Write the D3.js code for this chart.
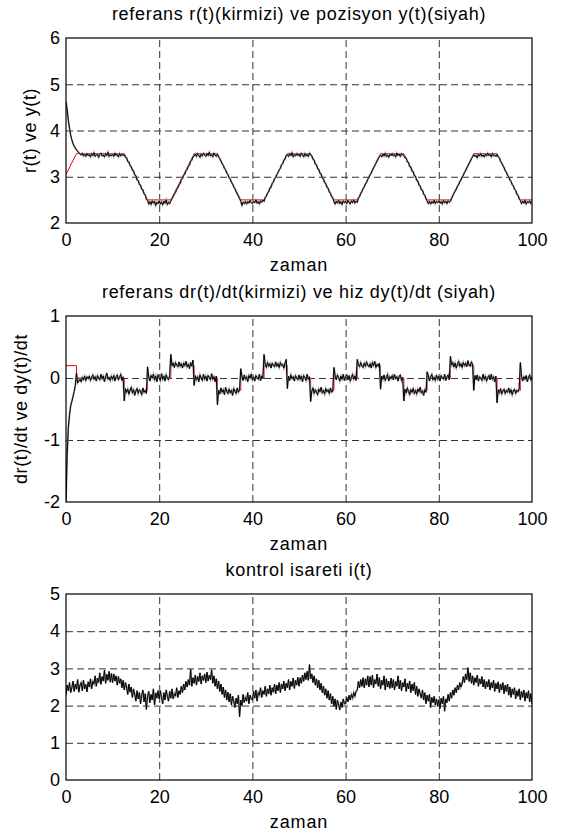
<!DOCTYPE html>
<html>
<head>
<meta charset="utf-8">
<script src="https://cdn.jsdelivr.net/npm/d3@7/dist/d3.min.js"></script>
<style>
	body { margin: 0; background: #fff; }
	text { font-family: "Liberation Sans", Arial, Helvetica, sans-serif; fill: #000; }
</style>
</head>
<body>
<div class="chart"></div>
<script>
// simulation samples every 0.25 s
const zaman = d3.range(0, 100.001, 0.25);
const zamanTicks = [0, 20, 40, 60, 80, 100];

// reference r(t): corner points of the trapezoid
const refZaman = [0, 2.25, 12.5, 17.5, 22.5, 27.5, 32.5, 37.5, 42.5, 47.5, 52.5, 57.5, 62.5, 67.5, 72.5, 77.5, 82.5, 87.5, 92.5, 97.5, 100];
const refPoz = [3.05, 3.5, 3.5, 2.5, 2.5, 3.5, 3.5, 2.5, 2.5, 3.5, 3.5, 2.5, 2.5, 3.5, 3.5, 2.5, 2.5, 3.5, 3.5, 2.5, 2.5];
// reference dr(t)/dt, held until next point
const refHiz = [0.2, 0, -0.2, 0, 0.2, 0, -0.2, 0, 0.2, 0, -0.2, 0, 0.2, 0, -0.2, 0, 0.2, 0, -0.2, 0, 0];

// position y(t), one row = 5 s
const pozisyon = [
	4.62, 4.45, 4.22, 4.05, 3.90, 3.80, 3.72, 3.66, 3.62, 3.58, 3.55, 3.52, 3.50, 3.47, 3.51, 3.45, 3.49, 3.44, 3.50, 3.46,
	3.48, 3.43, 3.50, 3.46, 3.52, 3.44, 3.47, 3.49, 3.42, 3.48, 3.51, 3.45, 3.47, 3.43, 3.50, 3.46, 3.53, 3.44, 3.48, 3.45,
	3.49, 3.44, 3.51, 3.46, 3.48, 3.43, 3.50, 3.45, 3.49, 3.46, 3.48, 3.42, 3.41, 3.33, 3.32, 3.24, 3.22, 3.14, 3.13, 3.04,
	3.02, 2.93, 2.92, 2.83, 2.82, 2.73, 2.72, 2.63, 2.61, 2.52, 2.49, 2.41, 2.46, 2.40, 2.48, 2.43, 2.47, 2.38, 2.45, 2.42,
	2.48, 2.41, 2.46, 2.39, 2.47, 2.43, 2.50, 2.40, 2.45, 2.42, 2.48, 2.53, 2.57, 2.63, 2.66, 2.73, 2.76, 2.83, 2.85, 2.94,
	2.96, 3.03, 3.06, 3.13, 3.16, 3.23, 3.25, 3.34, 3.36, 3.43, 3.45, 3.49, 3.44, 3.50, 3.46, 3.42, 3.49, 3.45, 3.51, 3.47,
	3.44, 3.50, 3.46, 3.53, 3.45, 3.48, 3.43, 3.51, 3.47, 3.44, 3.49, 3.43, 3.39, 3.34, 3.28, 3.25, 3.18, 3.15, 3.08, 3.05,
	2.98, 2.95, 2.88, 2.84, 2.78, 2.74, 2.68, 2.63, 2.58, 2.53, 2.47, 2.38, 2.45, 2.42, 2.47, 2.41, 2.46, 2.43, 2.49, 2.44,
	2.42, 2.47, 2.44, 2.50, 2.43, 2.46, 2.41, 2.48, 2.45, 2.50, 2.47, 2.55, 2.58, 2.65, 2.67, 2.76, 2.77, 2.86, 2.88, 2.96,
	2.98, 3.05, 3.09, 3.15, 3.18, 3.26, 3.28, 3.36, 3.38, 3.46, 3.48, 3.44, 3.50, 3.46, 3.52, 3.43, 3.48, 3.45, 3.50, 3.46,
	3.49, 3.44, 3.51, 3.47, 3.43, 3.50, 3.45, 3.48, 3.44, 3.51, 3.47, 3.45, 3.38, 3.36, 3.27, 3.26, 3.17, 3.16, 3.07, 3.06,
	2.97, 2.95, 2.87, 2.85, 2.77, 2.75, 2.67, 2.64, 2.57, 2.54, 2.46, 2.41, 2.47, 2.43, 2.49, 2.42, 2.46, 2.40, 2.48, 2.44,
	2.47, 2.42, 2.49, 2.45, 2.41, 2.48, 2.44, 2.50, 2.43, 2.47, 2.45, 2.54, 2.57, 2.64, 2.68, 2.74, 2.78, 2.84, 2.88, 2.94,
	2.99, 3.04, 3.08, 3.14, 3.19, 3.24, 3.29, 3.34, 3.39, 3.44, 3.47, 3.43, 3.49, 3.45, 3.51, 3.44, 3.47, 3.42, 3.49, 3.46,
	3.50, 3.45, 3.48, 3.43, 3.51, 3.46, 3.49, 3.44, 3.50, 3.47, 3.46, 3.41, 3.40, 3.32, 3.31, 3.22, 3.21, 3.12, 3.11, 3.02,
	3.01, 2.92, 2.91, 2.82, 2.80, 2.72, 2.71, 2.62, 2.60, 2.52, 2.48, 2.42, 2.47, 2.41, 2.46, 2.43, 2.49, 2.42, 2.47, 2.44,
	2.48, 2.43, 2.46, 2.41, 2.49, 2.44, 2.47, 2.42, 2.48, 2.45, 2.47, 2.53, 2.59, 2.64, 2.69, 2.73, 2.79, 2.83, 2.89, 2.93,
	2.99, 3.03, 3.09, 3.13, 3.19, 3.23, 3.29, 3.33, 3.39, 3.43, 3.48, 3.44, 3.46, 3.41, 3.49, 3.45, 3.50, 3.44, 3.47, 3.43,
	3.49, 3.45, 3.51, 3.46, 3.48, 3.43, 3.50, 3.45, 3.47, 3.44, 3.48, 3.43, 3.41, 3.33, 3.30, 3.24, 3.20, 3.13, 3.10, 3.03,
	3.00, 2.93, 2.90, 2.83, 2.80, 2.73, 2.70, 2.62, 2.60, 2.52, 2.49, 2.42, 2.47, 2.43, 2.49, 2.41, 2.46, 2.44, 2.48, 2.42,
	2.45
];

// speed dy(t)/dt, one row = 5 s
const hiz = [
	-2.00, -1.25, -0.80, -0.60, -0.45, -0.38, -0.30, -0.22, -0.12, 0.08, -0.08, -0.05, -0.02, -0.06, 0.01, -0.03, 0.03, -0.04, 0.02, -0.01,
	0.03, -0.04, 0.01, 0.05, -0.02, 0.02, -0.05, 0.04, 0.00, -0.03, 0.06, -0.01, 0.03, -0.06, 0.02, 0.08, -0.02, 0.01, -0.04, 0.03,
	-0.02, 0.04, -0.05, 0.02, 0.05, -0.03, 0.01, 0.06, -0.04, 0.02, -0.37, -0.17, -0.23, -0.18, -0.26, -0.20, -0.15, -0.24, -0.19, -0.28,
	-0.21, -0.17, -0.25, -0.19, -0.22, -0.27, -0.16, -0.23, -0.20, -0.25, 0.18, 0.02, -0.05, 0.04, 0.00, 0.06, -0.03, 0.03, -0.06, 0.05,
	0.01, -0.04, 0.07, -0.02, 0.03, -0.05, 0.05, 0.00, -0.03, 0.04, 0.38, 0.20, 0.24, 0.17, 0.25, 0.21, 0.18, 0.26, 0.19, 0.23,
	0.16, 0.24, 0.20, 0.27, 0.18, 0.22, 0.15, 0.25, 0.19, 0.29, -0.12, 0.04, -0.03, 0.02, -0.06, 0.05, 0.00, -0.04, 0.06, -0.02,
	0.03, -0.05, 0.04, 0.01, -0.03, 0.07, -0.02, 0.02, -0.06, 0.03, -0.43, -0.20, -0.26, -0.16, -0.23, -0.19, -0.27, -0.15, -0.22, -0.25,
	-0.18, -0.24, -0.20, -0.28, -0.17, -0.22, -0.25, -0.16, -0.23, -0.19, 0.15, 0.03, -0.04, 0.05, -0.02, 0.02, -0.06, 0.04, 0.00, 0.06,
	-0.03, 0.02, -0.05, 0.04, 0.01, -0.02, 0.06, -0.04, 0.03, -0.01, 0.38, 0.22, 0.17, 0.25, 0.19, 0.23, 0.16, 0.24, 0.21, 0.18,
	0.26, 0.19, 0.23, 0.17, 0.25, 0.20, 0.22, 0.16, 0.24, 0.30, -0.17, 0.03, -0.04, 0.05, -0.01, 0.02, -0.05, 0.04, 0.00, -0.03,
	0.05, -0.02, 0.03, -0.06, 0.04, 0.01, -0.04, 0.06, -0.02, 0.02, -0.38, -0.21, -0.16, -0.25, -0.19, -0.23, -0.27, -0.18, -0.22, -0.15,
	-0.24, -0.20, -0.26, -0.17, -0.22, -0.19, -0.25, -0.16, -0.23, -0.21, 0.17, 0.04, -0.03, 0.05, 0.01, -0.05, 0.03, -0.02, 0.06, -0.04,
	0.02, 0.05, -0.03, 0.04, -0.05, 0.01, 0.06, -0.02, 0.03, -0.04, 0.30, 0.22, 0.18, 0.25, 0.20, 0.17, 0.24, 0.19, 0.26, 0.21,
	0.18, 0.23, 0.16, 0.25, 0.20, 0.27, 0.17, 0.22, 0.19, 0.24, -0.18, 0.03, -0.02, 0.05, -0.04, 0.01, 0.06, -0.05, 0.02, -0.01,
	0.04, -0.03, 0.06, -0.01, 0.02, -0.05, 0.03, 0.05, -0.04, 0.01, -0.37, -0.18, -0.24, -0.16, -0.22, -0.27, -0.19, -0.23, -0.17, -0.25,
	-0.20, -0.26, -0.18, -0.22, -0.15, -0.24, -0.21, -0.28, -0.19, -0.23, 0.10, 0.04, -0.05, 0.02, 0.06, -0.03, 0.01, -0.04, 0.05, -0.02,
	0.03, -0.05, 0.04, 0.00, -0.02, 0.06, -0.04, 0.02, 0.05, -0.03, 0.35, 0.21, 0.25, 0.18, 0.24, 0.16, 0.22, 0.27, 0.19, 0.23,
	0.17, 0.25, 0.20, 0.24, 0.18, 0.28, 0.21, 0.19, 0.26, 0.22, -0.20, 0.04, -0.03, 0.05, -0.05, 0.02, 0.00, -0.04, 0.06, -0.02,
	0.03, -0.05, 0.01, 0.04, -0.03, 0.06, -0.02, 0.02, -0.06, 0.03, -0.40, -0.19, -0.24, -0.17, -0.26, -0.21, -0.18, -0.25, -0.20, -0.23,
	-0.16, -0.24, -0.19, -0.27, -0.21, -0.18, -0.25, -0.20, -0.22, -0.17, 0.25, 0.03, -0.05, 0.02, -0.02, 0.04, -0.06, 0.01, 0.05, -0.03,
	0.02
];

// control signal i(t), one row = 5 s
const kontrol = [
	2.28, 2.55, 2.40, 2.62, 2.35, 2.48, 2.66, 2.38, 2.58, 2.44, 2.70, 2.36, 2.55, 2.62, 2.40, 2.68, 2.45, 2.57, 2.37, 2.64,
	2.50, 2.72, 2.45, 2.65, 2.58, 2.80, 2.52, 2.74, 2.62, 2.88, 2.57, 2.78, 2.66, 2.95, 2.60, 2.84, 2.68, 2.92, 2.63, 2.86,
	2.62, 2.85, 2.66, 2.80, 2.55, 2.78, 2.60, 2.72, 2.48, 2.68, 2.42, 2.62, 2.50, 2.30, 2.58, 2.36, 2.50, 2.22, 2.45, 2.30,
	2.12, 2.40, 2.18, 2.35, 2.05, 2.28, 2.42, 2.10, 2.32, 1.90, 2.25, 2.38, 2.08, 2.30, 2.15, 2.45, 2.02, 2.34, 2.20, 2.40,
	2.18, 2.40, 2.22, 2.05, 2.35, 2.15, 2.42, 2.25, 2.12, 2.38, 2.20, 2.45, 2.18, 2.32, 2.26, 2.48, 2.22, 2.40, 2.30, 2.52,
	2.35, 2.58, 2.42, 2.65, 2.50, 2.70, 2.55, 2.98, 2.52, 2.75, 2.60, 2.82, 2.55, 2.78, 2.65, 2.88, 2.58, 2.80, 2.68, 2.85,
	2.62, 2.90, 2.66, 2.82, 2.70, 2.96, 2.60, 2.80, 2.52, 2.72, 2.45, 2.66, 2.38, 2.58, 2.30, 2.50, 2.22, 2.42, 2.15, 2.36,
	2.10, 2.32, 2.02, 2.25, 2.12, 1.95, 2.20, 2.05, 2.28, 1.70, 2.15, 2.00, 2.30, 2.08, 2.22, 2.12, 2.35, 2.05, 2.28, 2.18,
	2.15, 2.38, 2.20, 2.42, 2.12, 2.35, 2.28, 2.48, 2.22, 2.40, 2.30, 2.52, 2.25, 2.45, 2.32, 2.55, 2.28, 2.48, 2.36, 2.58,
	2.32, 2.55, 2.40, 2.62, 2.35, 2.58, 2.45, 2.66, 2.40, 2.60, 2.48, 2.70, 2.42, 2.65, 2.52, 2.74, 2.46, 2.68, 2.55, 2.76,
	2.52, 2.75, 2.60, 2.82, 2.65, 2.88, 2.70, 2.92, 2.68, 3.10, 2.72, 2.85, 2.62, 2.80, 2.55, 2.72, 2.48, 2.68, 2.42, 2.60,
	2.35, 2.52, 2.28, 2.45, 2.20, 2.40, 2.15, 2.32, 2.05, 2.25, 1.98, 2.18, 1.90, 2.15, 2.02, 1.88, 2.10, 1.95, 2.18, 2.05,
	2.05, 2.22, 2.10, 2.28, 2.15, 2.30, 2.20, 2.35, 2.25, 2.38, 2.42, 2.65, 2.48, 2.70, 2.52, 2.75, 2.48, 2.72, 2.55, 2.80,
	2.50, 2.78, 2.55, 2.82, 2.48, 2.70, 2.58, 2.85, 2.52, 2.75, 2.45, 2.68, 2.55, 2.80, 2.42, 2.72, 2.50, 2.66, 2.46, 2.74,
	2.48, 2.70, 2.42, 2.65, 2.52, 2.80, 2.45, 2.68, 2.40, 2.62, 2.50, 2.72, 2.38, 2.60, 2.45, 2.66, 2.35, 2.58, 2.40, 2.62,
	2.30, 2.52, 2.25, 2.45, 2.32, 2.20, 2.42, 2.15, 2.35, 2.05, 2.28, 2.12, 2.30, 1.95, 2.22, 2.08, 2.25, 2.02, 2.18, 1.98,
	2.15, 1.92, 2.20, 2.05, 2.25, 1.85, 2.18, 2.08, 2.30, 2.12, 2.35, 2.20, 2.42, 2.28, 2.48, 2.35, 2.55, 2.42, 2.62, 2.50,
	2.58, 2.78, 2.62, 2.85, 2.70, 3.02, 2.65, 2.88, 2.60, 2.80, 2.55, 2.75, 2.62, 2.82, 2.52, 2.72, 2.58, 2.78, 2.50, 2.70,
	2.45, 2.65, 2.50, 2.70, 2.42, 2.62, 2.48, 2.68, 2.38, 2.60, 2.45, 2.64, 2.35, 2.58, 2.42, 2.62, 2.32, 2.55, 2.38, 2.58,
	2.28, 2.50, 2.22, 2.45, 2.30, 2.48, 2.18, 2.40, 2.25, 2.45, 2.15, 2.38, 2.22, 2.42, 2.12, 2.35, 2.20, 2.40, 2.10, 2.32,
	2.05
];

const w = 563;
const h = 839;
const left = 66, right = 532;
const fontFam = "Liberation Sans, Arial, sans-serif";

const svg = d3.select(".chart")
				.append("svg")
				.attr("width", w)
				.attr("height", h);

const x = d3.scaleLinear().domain([0, 100]).range([left, right]);

function panel(cfg) {
	const y = d3.scaleLinear().domain(cfg.domain).range([cfg.bottom, cfg.top]);
	const g = svg.append("g");

	g.append("clipPath").attr("id", cfg.id)
		.append("rect")
		.attr("x", left).attr("y", cfg.top)
		.attr("width", right - left).attr("height", cfg.bottom - cfg.top);

	// dashed grid
	g.append("g")
		.attr("transform", "translate(0," + cfg.bottom + ")")
		.call(d3.axisBottom(x).tickValues(zamanTicks.slice(1, -1)).tickSize(-(cfg.bottom - cfg.top)).tickFormat(""))
		.call(a => a.select(".domain").remove())
		.selectAll("line").attr("stroke", "#333").attr("stroke-dasharray", "7,4");
	g.append("g")
		.attr("transform", "translate(" + left + ",0)")
		.call(d3.axisLeft(y).tickValues(cfg.ticks.slice(1, -1)).tickSize(-(right - left)).tickFormat(""))
		.call(a => a.select(".domain").remove())
		.selectAll("line").attr("stroke", "#333").attr("stroke-dasharray", "7,4");

	const plot = g.append("g").attr("clip-path", "url(#" + cfg.id + ")");
	if (cfg.ref) {
		plot.append("path")
			.datum(cfg.refVals)
			.attr("fill", "none")
			.attr("stroke", "#ff0000")
			.attr("stroke-width", 1)
			.attr("d", d3.line().curve(cfg.curve || d3.curveLinear)
				.x((d, i) => x(refZaman[i])).y(d => y(d)));
	}
	const line = d3.line().x((d, i) => x(zaman[i])).y(d => y(d));
	plot.append("path")
		.datum(cfg.vals)
		.attr("fill", "none")
		.attr("stroke", "#a0a0a0")
		.attr("stroke-width", 1.8)
		.attr("d", line);
	plot.append("path")
		.datum(cfg.vals)
		.attr("fill", "none")
		.attr("stroke", "#000")
		.attr("stroke-width", 1)
		.attr("d", line);

	// tick labels
	g.append("g")
		.attr("transform", "translate(0," + cfg.bottom + ")")
		.call(d3.axisBottom(x).tickValues(zamanTicks).tickSize(0).tickPadding(10).tickFormat(d => String(d)))
		.call(a => a.select(".domain").remove())
		.selectAll("text")
		.attr("font-size", "18px")
		.attr("font-family", fontFam)
		.attr("fill", "#000");
	g.append("g")
		.attr("transform", "translate(" + left + ",0)")
		.call(d3.axisLeft(y).tickValues(cfg.ticks).tickSize(0).tickPadding(6).tickFormat(d => String(d)))
		.call(a => a.select(".domain").remove())
		.selectAll("text")
		.attr("font-size", "18px")
		.attr("font-family", fontFam)
		.attr("fill", "#000");

	// box
	g.append("rect")
		.attr("x", left).attr("y", cfg.top)
		.attr("width", right - left).attr("height", cfg.bottom - cfg.top)
		.attr("fill", "none").attr("stroke", "#000").attr("stroke-width", 1.2);

	g.append("text")
		.attr("x", (left + right) / 2).attr("y", cfg.top - 23)
		.attr("text-anchor", "middle").attr("dominant-baseline", "middle")
		.attr("font-size", "18px").attr("letter-spacing", "0.7px")
		.text(cfg.title);
	g.append("text")
		.attr("x", (left + right) / 2).attr("y", cfg.bottom + 43)
		.attr("text-anchor", "middle").attr("dominant-baseline", "middle")
		.attr("font-size", "18px").attr("letter-spacing", "0.9px")
		.text("zaman");
	if (cfg.ylabel) {
		g.append("text")
			.attr("transform", "translate(" + cfg.ylabelX + "," + (cfg.top + cfg.bottom) / 2 + ") rotate(-90)")
			.attr("text-anchor", "middle").attr("dominant-baseline", "middle")
			.attr("font-size", "18px").attr("letter-spacing", "0.6px")
			.text(cfg.ylabel);
	}
}

panel({ id: "c1", top: 38, bottom: 223, domain: [2, 6], ticks: [2, 3, 4, 5, 6],
	vals: pozisyon, ref: true, refVals: refPoz,
	title: "referans r(t)(kirmizi) ve pozisyon y(t)(siyah)", ylabel: "r(t) ve y(t)", ylabelX: 31 });

panel({ id: "c2", top: 316, bottom: 502, domain: [-2, 1], ticks: [-2, -1, 0, 1],
	vals: hiz, ref: true, refVals: refHiz, curve: d3.curveStepAfter,
	title: "referans dr(t)/dt(kirmizi) ve hiz dy(t)/dt (siyah)", ylabel: "dr(t)/dt ve dy(t)/dt", ylabelX: 22 });

panel({ id: "c3", top: 594, bottom: 780, domain: [0, 5], ticks: [0, 1, 2, 3, 4, 5],
	vals: kontrol, ref: false,
	title: "kontrol isareti i(t)" });
</script>
</body>
</html>
